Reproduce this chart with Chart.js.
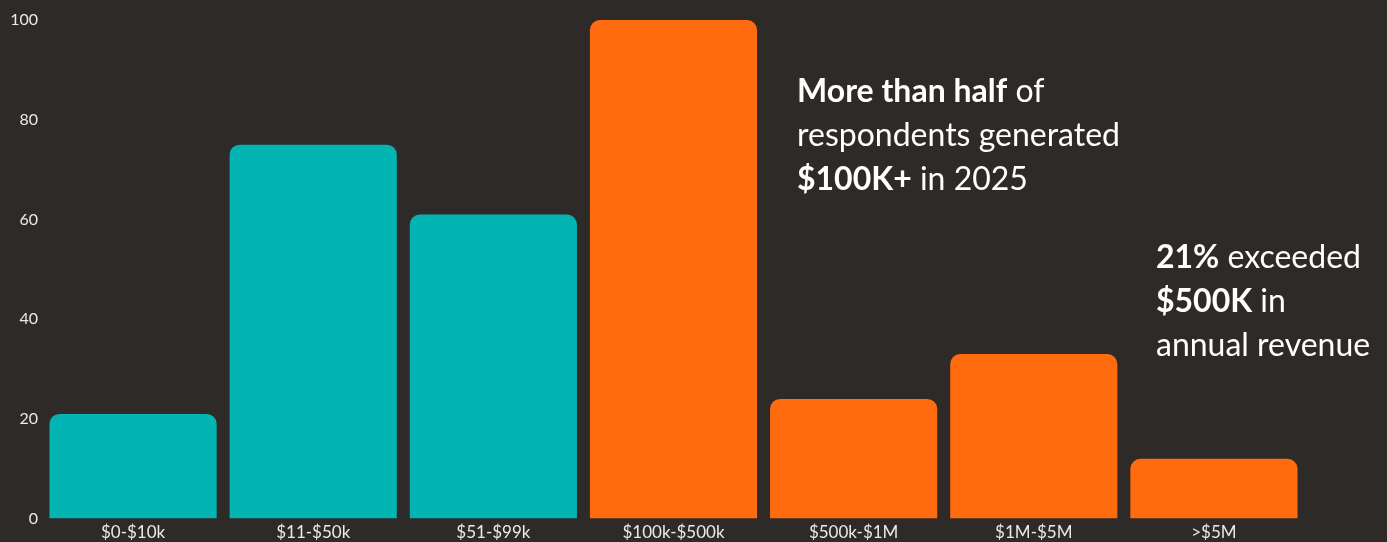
<!DOCTYPE html>
<html>
<head>
<meta charset="utf-8">
<script src="https://cdn.jsdelivr.net/npm/chart.js@4/dist/chart.umd.min.js"></script>
<style>
  html, body { margin: 0; padding: 0; background: #2e2a28; overflow: hidden; }
  #wrap { position: relative; width: 1387px; height: 547px; }
</style>
</head>
<body>
<div id="wrap"><canvas id="revenueChart"></canvas></div>
<script>
// Revenue brackets and respondent counts
const brackets = ['$0-$10k', '$11-$50k', '$51-$99k', '$100k-$500k', '$500k-$1M', '$1M-$5M', '>$5M'];
const respondents = [21, 75, 61, 100, 24, 33, 12];
const yTicks = [0, 20, 40, 60, 80, 100];

const TEAL = '#02b5b2';
const ORANGE = '#ff6b0e';
const TEXT = '#ece9e6';

// Brackets under $100k are teal, the rest orange
const barColors = brackets.map((b, i) => i < 3 ? TEAL : ORANGE);

// Callout text, each line is a list of [text, bold] runs
const callouts = [
    { x: 797, y: 102, lines: [
        [['More than half', true], [' of', false]],
        [['respondents generated', false]],
        [['$100K+', true], [' in 2025', false]]
    ]},
    { x: 1156, y: 268, lines: [
        [['21%', true], [' exceeded', false]],
        [['$500K', true], [' in', false]],
        [['annual revenue', false]]
    ]}
];

const calloutPlugin = {
    id: 'callouts',
    afterDraw(chart) {
        const ctx = chart.ctx;
        ctx.save();
        ctx.fillStyle = '#ffffff';
        ctx.textBaseline = 'alphabetic';
        callouts.forEach(c => {
            c.lines.forEach((runs, li) => {
                let x = c.x;
                const y = c.y + li * 44;
                runs.forEach(([txt, bold]) => {
                    ctx.font = (bold ? '700 ' : '400 ') + '32px Lato';
                    ctx.fillText(txt, x, y);
                    x += ctx.measureText(txt).width;
                });
            });
        });
        ctx.restore();
    }
};

const ctx = document.getElementById('revenueChart').getContext('2d');
new Chart(ctx, {
    type: 'bar',
    data: {
        labels: brackets,
        datasets: [{
            data: respondents,
            backgroundColor: barColors,
            borderRadius: 10,
            barPercentage: 0.928,
            categoryPercentage: 1
        }]
    },
    options: {
        responsive: true,
        maintainAspectRatio: false,
        animation: false,
        layout: { padding: { top: 20, right: 83, left: 0, bottom: 0 } },
        plugins: {
            legend: { display: false },
            tooltip: { enabled: false }
        },
        scales: {
            x: {
                grid: { display: false, drawTicks: false },
                border: { display: false },
                ticks: { color: TEXT, font: { family: 'Lato', size: 17 }, padding: 4, maxRotation: 0 }
            },
            y: {
                min: 0,
                max: 100,
                afterFit: s => { s.width = 43; },
                afterBuildTicks: s => { s.ticks = yTicks.map(v => ({ value: v })); },
                grid: { display: false, drawTicks: false },
                border: { display: false },
                ticks: { color: TEXT, font: { family: 'Lato', size: 16 }, padding: 5 }
            }
        }
    },
    plugins: [calloutPlugin]
});
</script>
</body>
</html>
